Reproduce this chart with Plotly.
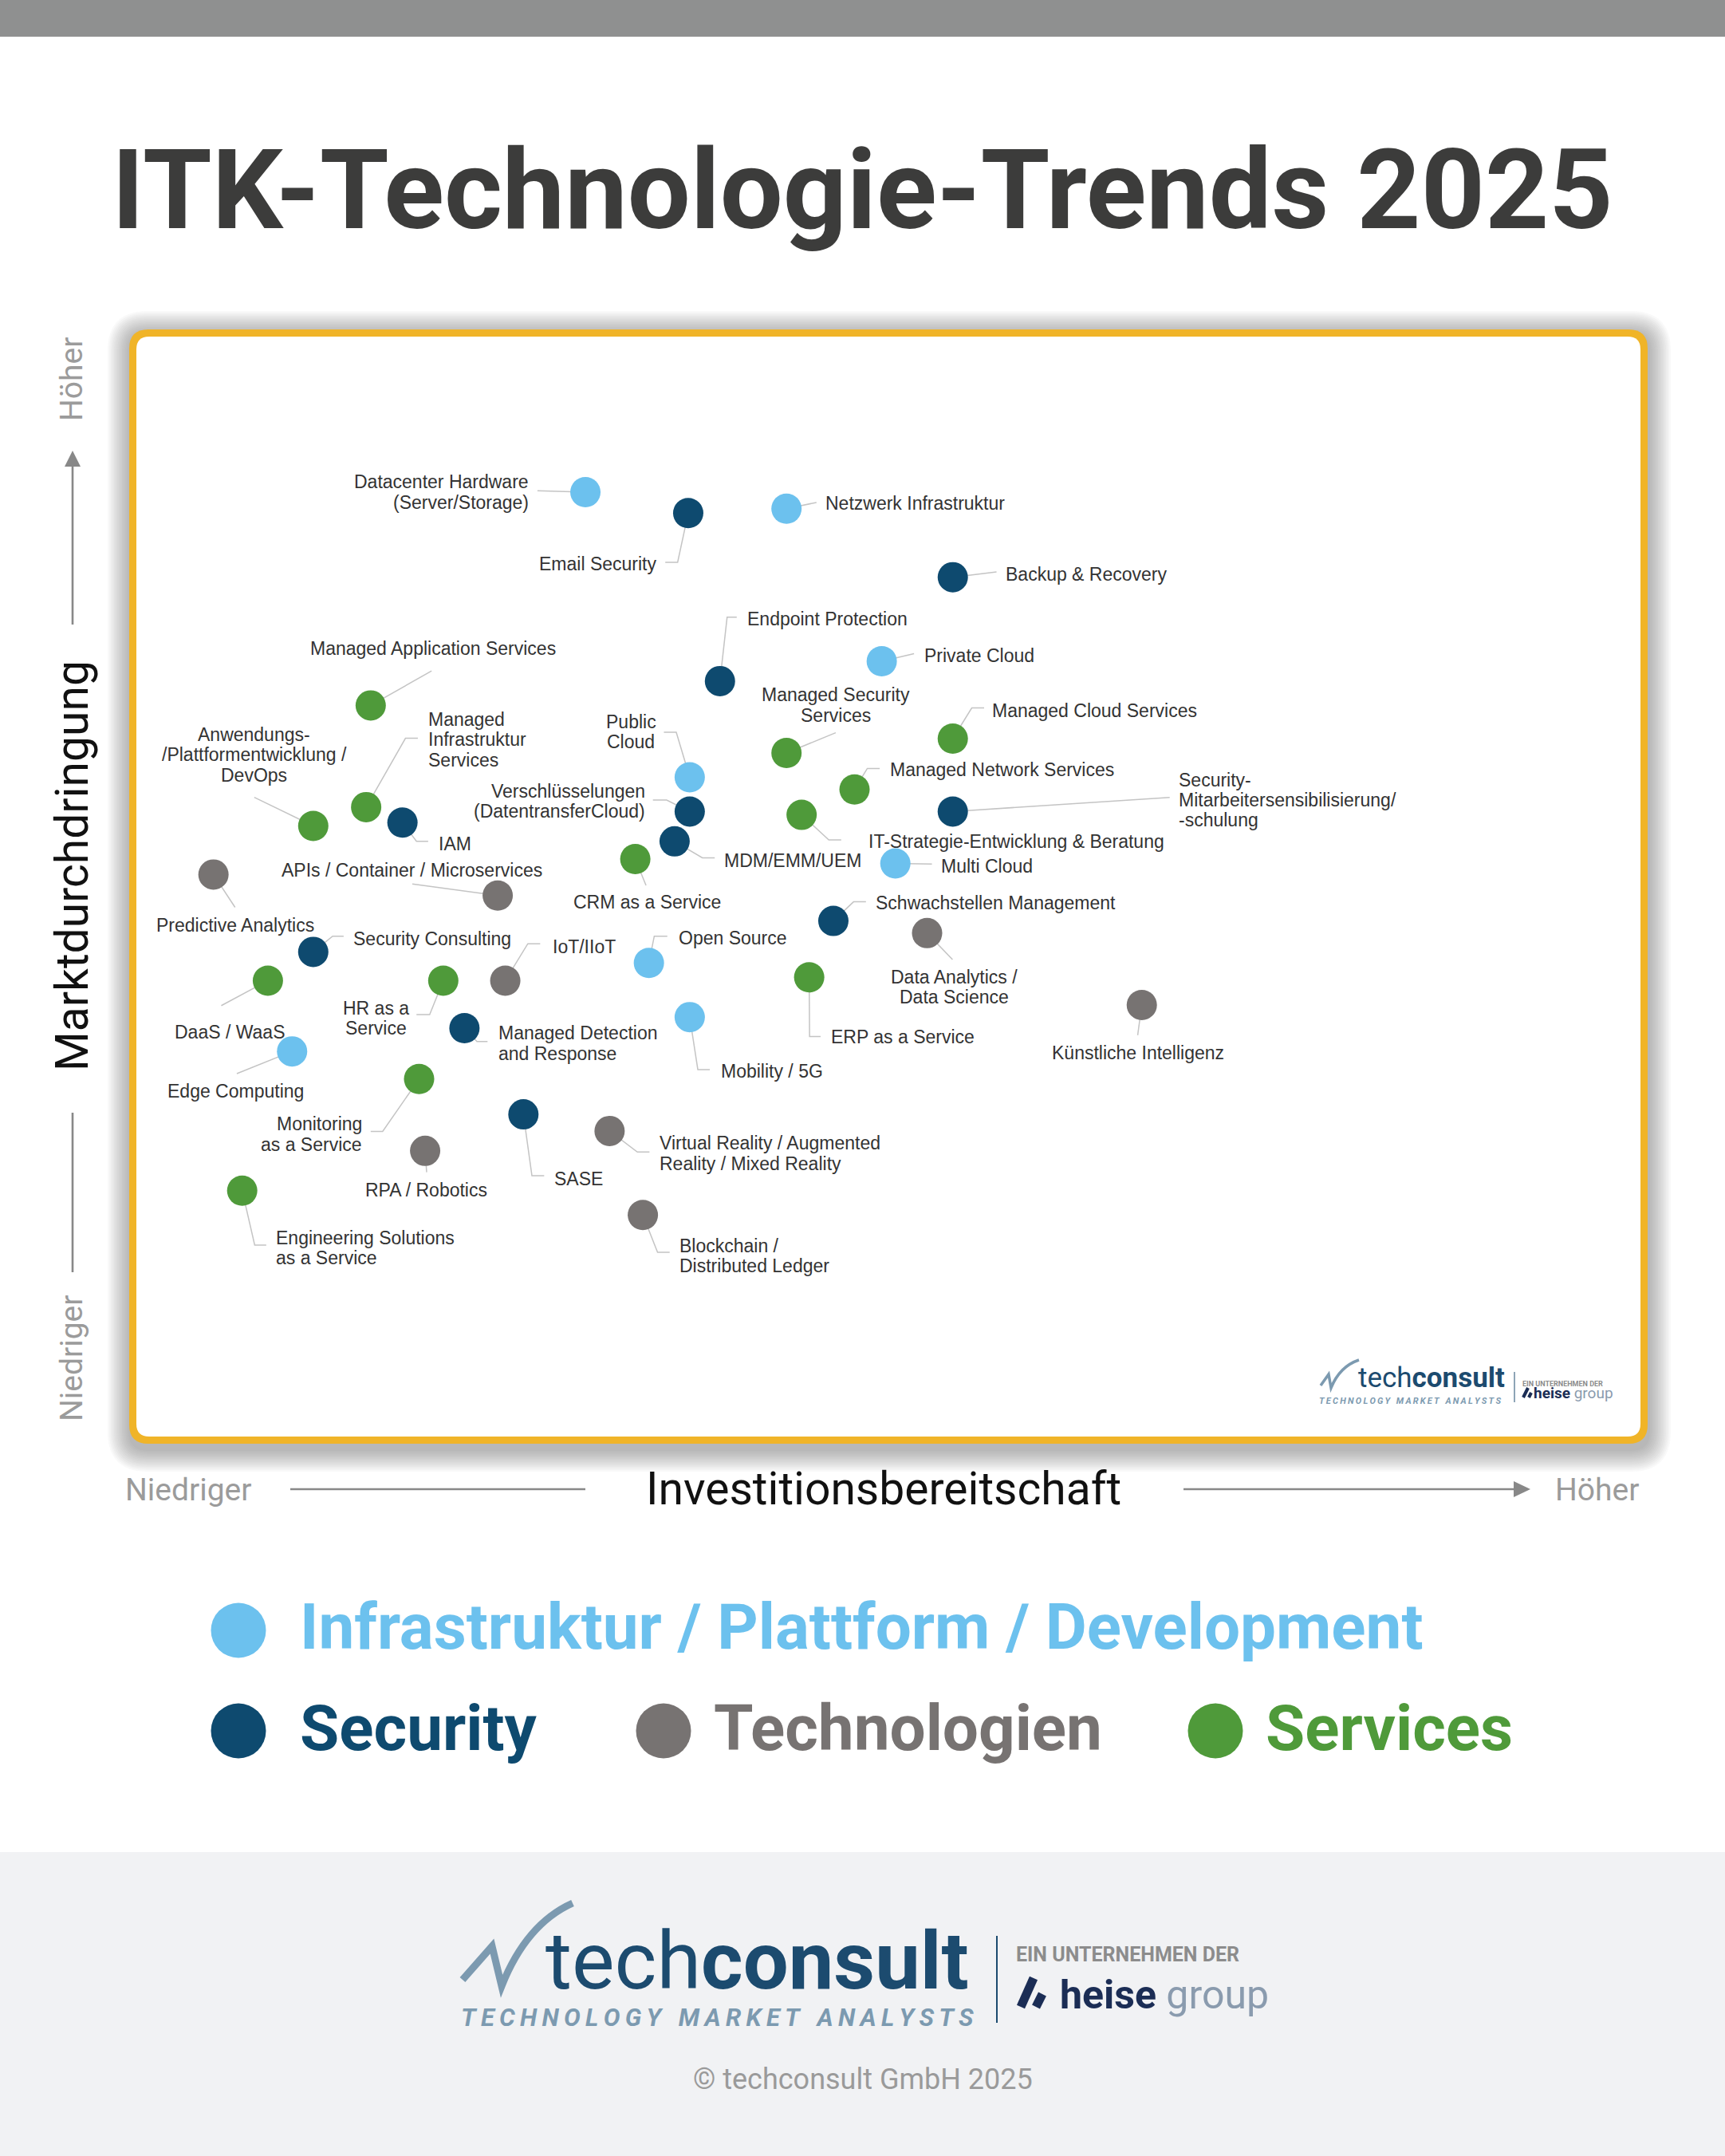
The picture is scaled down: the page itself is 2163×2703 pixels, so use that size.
import plotly.graph_objects as go

W, H = 2163, 2703
S = W / 1255.0  # reference layout unit -> page pixel

# ---------------- data ----------------
themen = [
    "Datacenter Hardware\n(Server/Storage)", "Email Security", "Netzwerk Infrastruktur",
    "Backup & Recovery", "Endpoint Protection", "Private Cloud",
    "Managed Security\nServices", "Managed Cloud Services", "Managed Application Services",
    "Managed\nInfrastruktur\nServices", "Anwendungs-\n/Plattformentwicklung /\nDevOps", "IAM",
    "Public\nCloud", "Verschlüsselungen\n(DatentransferCloud)", "MDM/EMM/UEM",
    "Managed Network Services", "IT-Strategie-Entwicklung & Beratung",
    "Security-\nMitarbeitersensibilisierung/\n-schulung", "Multi Cloud", "CRM as a Service",
    "APIs / Container / Microservices", "Predictive Analytics", "Schwachstellen Management",
    "Data Analytics /\nData Science", "Security Consulting", "IoT/IIoT", "Open Source",
    "ERP as a Service", "DaaS / WaaS", "HR as a\nService", "Managed Detection\nand Response",
    "Mobility / 5G", "Künstliche Intelligenz", "Edge Computing", "Monitoring\nas a Service",
    "RPA / Robotics", "SASE", "Virtual Reality / Augmented\nReality / Mixed Reality",
    "Blockchain /\nDistributed Ledger", "Engineering Solutions\nas a Service",
]
gruppe = [
    "infra", "sec", "infra", "sec", "sec", "infra",
    "serv", "serv", "serv",
    "serv", "serv", "sec",
    "infra", "sec", "sec",
    "serv", "serv",
    "sec", "infra", "serv",
    "tech", "tech", "sec",
    "tech", "sec", "tech", "infra",
    "serv", "serv", "serv", "sec",
    "infra", "tech", "infra", "serv",
    "tech", "sec", "tech",
    "tech", "serv",
]
investitionsbereitschaft = [
    29.9, 36.7, 43.2, 54.2, 38.8, 49.5,
    43.2, 54.2, 15.7,
    15.4, 11.9, 17.8,
    36.8, 36.8, 35.8,
    47.7, 44.2,
    54.2, 50.4, 33.2,
    24.1, 5.3, 46.3,
    52.5, 11.9, 24.6, 34.1,
    44.7, 8.9, 20.5, 21.9,
    36.8, 66.7, 10.5, 18.9,
    19.3, 25.8, 31.5,
    33.7, 7.2,
]
marktdurchdringung = [
    85.7, 83.8, 84.2, 78.0, 68.6, 70.4,
    62.1, 63.4, 66.4,
    57.2, 55.5, 55.8,
    59.9, 56.8, 54.1,
    58.8, 56.5,
    56.8, 52.1, 52.5,
    49.2, 51.1, 46.9,
    45.8, 44.1, 41.5, 43.1,
    41.8, 41.5, 41.5, 37.2,
    38.2, 39.3, 35.1, 32.6,
    26.1, 29.4, 27.9,
    20.3, 22.5,
]

gruppen = ["infra", "sec", "tech", "serv"]
gruppen_namen = {
    "infra": "Infrastruktur / Plattform / Development",
    "sec": "Security",
    "tech": "Technologien",
    "serv": "Services",
}
farben = {"infra": "#6CC1EE", "sec": "#0E4A6F", "tech": "#777372", "serv": "#4F9A3A"}

# label layout (reference layout units): anchor, text x, text y, leader waypoints
label_layout = [
    ("right", 385, 358, [(391, 357)]),
    ("right", 478, 410, [(493, 409), (484, 409)]),
    ("left", 600, 366, [(594, 365.5)]),
    ("left", 731, 418, [(725, 416)]),
    ("left", 543, 450, [(529, 449), (536, 449)]),
    ("left", 672, 477, [(665, 475.5)]),
    ("center", 608, 513, [(608, 533)]),
    ("left", 721, 517, [(707, 515), (716, 515)]),
    ("center", 315, 472, [(314, 488)]),
    ("left", 311, 538, [(295, 537), (304, 537)]),
    ("center", 185, 549, [(185, 580)]),
    ("left", 318.5, 614, [(303, 612), (311.5, 612)]),
    ("center", 459, 532.5, [(492, 532.6), (483, 532.6)]),
    ("right", 470, 583, [(485, 582), (475, 582)]),
    ("left", 526, 626, [(511, 624), (520, 624)]),
    ("left", 647, 560, [(631, 559), (640, 559)]),
    ("left", 631, 612, [(603, 611), (612, 611)]),
    ("left", 857, 582, [(851, 580)]),
    ("left", 684, 630, [(678, 628.5)]),
    ("center", 471, 656, [(470, 644)]),
    ("left", 204, 633, [(300, 643)]),
    ("center", 171, 673, [(171, 660)]),
    ("left", 636.5, 657, [(621, 656), (630, 656)]),
    ("center", 694, 718, [(693, 698)]),
    ("left", 256.5, 683, [(242, 681), (250, 681)]),
    ("left", 401.5, 689, [(384, 686.5), (393, 686.5)]),
    ("left", 493, 682.5, [(476, 681), (485.5, 681)]),
    ("left", 604, 754, [(589, 754), (597, 754)]),
    ("center", 167, 750.7, [(161, 731.5)]),
    ("center", 273.5, 740.7, [(312.6, 738), (303, 738)]),
    ("left", 362, 759, [(347, 757.6), (354.7, 757.6)]),
    ("left", 524, 779.4, [(507.7, 778), (516.4, 778)]),
    ("center", 828, 766, [(827.7, 753)]),
    ("center", 171.6, 793.7, [(172.3, 781)]),
    ("right", 264, 825, [(278.4, 823), (269.7, 823)]),
    ("center", 310, 865.7, [(310.4, 852.7)]),
    ("left", 402.5, 857.4, [(387, 855.3), (395.9, 855.3)]),
    ("left", 479.5, 839, [(463.7, 838), (472.5, 838)]),
    ("left", 493.6, 913.5, [(478.4, 911), (487.2, 911)]),
    ("left", 200, 907.6, [(185.3, 905.7), (193.7, 905.7)]),
]


def ref(xd, yd):
    """reference layout units -> axis units"""
    return (xd - 97) / 11.0, (1047 - yd) / 8.04


def px(x):
    return x / W


def py(y):
    return 1 - y / H


def rrect(x0, y0, x1, y1, r):
    return (f"M {px(x0 + r)},{py(y0)} L {px(x1 - r)},{py(y0)} "
            f"Q {px(x1)},{py(y0)} {px(x1)},{py(y0 + r)} L {px(x1)},{py(y1 - r)} "
            f"Q {px(x1)},{py(y1)} {px(x1 - r)},{py(y1)} L {px(x0 + r)},{py(y1)} "
            f"Q {px(x0)},{py(y1)} {px(x0)},{py(y1 - r)} L {px(x0)},{py(y0 + r)} "
            f"Q {px(x0)},{py(y0)} {px(x0 + r)},{py(y0)} Z")


def ppath(points, close=False):
    s = "M " + " L ".join(f"{px(a)},{py(b)}" for a, b in points)
    return s + (" Z" if close else "")


fig = go.Figure()

# leader lines
lx, ly = [], []
for i, (anc, tx, ty, pts) in enumerate(label_layout):
    lx.append(investitionsbereitschaft[i])
    ly.append(marktdurchdringung[i])
    for p in pts:
        a, b = ref(*p)
        lx.append(a)
        ly.append(b)
    lx.append(None)
    ly.append(None)
fig.add_trace(go.Scatter(x=lx, y=ly, mode="lines", line=dict(color="#C4C4C4", width=1.5),
                         hoverinfo="skip", showlegend=False))

for g in gruppen:
    idx = [i for i, v in enumerate(gruppe) if v == g]
    fig.add_trace(go.Scatter(
        x=[investitionsbereitschaft[i] for i in idx],
        y=[marktdurchdringung[i] for i in idx],
        mode="markers", name=gruppen_namen[g],
        text=[themen[i].replace("\n", " ") for i in idx],
        hovertemplate="%{text}<extra></extra>",
        marker=dict(size=38, color=farben[g], line=dict(width=0)),
        showlegend=False,
    ))

annotations = []
LABEL_FONT = dict(family="Liberation Sans, Arial, sans-serif", size=23, color="#333333")
for i, (anc, tx, ty, pts) in enumerate(label_layout):
    lines = themen[i].split("\n")
    n = len(lines)
    for j, line in enumerate(lines):
        yy = ty + (j - (n - 1) / 2) * 14.7
        a, b = ref(tx, yy)
        annotations.append(dict(x=a, y=b, xref="x", yref="y", text=line, showarrow=False,
                                xanchor=anc, yanchor="middle", font=LABEL_FONT, borderpad=0))


def pa(x, y, text, size, color, family="Roboto", weight=None, xanchor="center",
       textangle=0):
    f = dict(family=family, size=size, color=color)
    if weight:
        f["weight"] = weight
    annotations.append(dict(x=px(x), y=py(y), xref="paper", yref="paper", text=text,
                            showarrow=False, xanchor=xanchor, yanchor="middle", font=f,
                            textangle=textangle, borderpad=0))


# title
pa(W / 2, 238, "ITK-Technologie-Trends 2025", 140, "#3C3C3B", weight=700)

# axis titles
GREY = "#9B9B9B"
pa(1108, 1866, "Investitionsbereitschaft", 57, "#111111")
pa(236, 1868, "Niedriger", 39, GREY)
pa(2002, 1868, "Höher", 39, GREY)
pa(90, 1086, "Marktdurchdringung", 57, "#111111", textangle=-90)
pa(90, 476, "Höher", 39, GREY, textangle=-90)
pa(90, 1703, "Niedriger", 39, GREY, textangle=-90)

# legend texts
pa(375, 2040, gruppen_namen["infra"], 80, farben["infra"], weight=700, xanchor="left")
pa(375, 2167, gruppen_namen["sec"], 80, farben["sec"], weight=700, xanchor="left")
pa(894, 2167, gruppen_namen["tech"], 80, farben["tech"], weight=700, xanchor="left")
pa(1586, 2167, gruppen_namen["serv"], 80, farben["serv"], weight=700, xanchor="left")

# footer logo texts
LOGO = "#1C4B6F"
LOGO2 = "#7C9AB0"
TMA = "\u2009".join("TECHNOLOGY") + "\u2002\u2009" + "\u2009".join("MARKET") + "\u2002\u2009" + "\u2009".join("ANALYSTS")
pa(683, 2458, "tech<b>consult</b>", 101, LOGO, xanchor="left")
pa(577, 2529, "<b><i>" + TMA + "</i></b>", 31, LOGO2, xanchor="left")
pa(1273, 2450, "<b>EIN UNTERNEHMEN DER</b>", 25, "#8C8C8C", xanchor="left")
pa(1328, 2501, "<b>heise</b> <span style='color:#8A9BAE'>group</span>", 50, "#1B2D55",
   xanchor="left")
pa(W / 2, 2607, "© techconsult GmbH 2025", 36, "#9A9A9A")

# small logo in card
pa(1702, 1727, "tech<b>consult</b>", 35, LOGO, xanchor="left")
pa(1653, 1756, "<b><i>" + TMA + "</i></b>", 11, LOGO2, xanchor="left")
pa(1908, 1735, "<b>EIN UNTERNEHMEN DER</b>", 9, "#8C8C8C", xanchor="left")
pa(1922, 1746, "<b>heise</b> <span style='color:#8A9BAE'>group</span>", 19, "#1B2D55",
   xanchor="left")

# ---------------- shapes ----------------
shapes = []
shapes.append(dict(type="rect", xref="paper", yref="paper", x0=0, x1=1, y0=py(46), y1=1,
                   fillcolor="#8F9090", line=dict(width=0), layer="below"))
shapes.append(dict(type="rect", xref="paper", yref="paper", x0=0, x1=1, y0=0, y1=py(2322),
                   fillcolor="#F1F2F4", line=dict(width=0), layer="below"))
# card shadow
for k in range(14):
    e = 2 + k * 2.0
    shapes.append(dict(type="path", xref="paper", yref="paper",
                       path=rrect(162 - e + 1, 413 - e + 5, 2066 + e + 1, 1810 + e + 7, 22 + e),
                       fillcolor="rgba(105,105,108,0.04)", line=dict(width=0), layer="below"))
shapes.append(dict(type="path", xref="paper", yref="paper", path=rrect(162, 413, 2066, 1810, 24),
                   fillcolor="#F0B428", line=dict(width=0), layer="below"))
shapes.append(dict(type="path", xref="paper", yref="paper", path=rrect(171, 422, 2057, 1801, 16),
                   fillcolor="#FFFFFF", line=dict(width=0), layer="below"))

AX = "#888888"
# y axis arrow + line
shapes.append(dict(type="line", xref="paper", yref="paper", x0=px(91), x1=px(91), y0=py(783),
                   y1=py(582), line=dict(color=AX, width=2.6)))
shapes.append(dict(type="path", xref="paper", yref="paper",
                   path=ppath([(81, 585), (91, 565), (101, 585)], True),
                   fillcolor=AX, line=dict(width=0)))
shapes.append(dict(type="line", xref="paper", yref="paper", x0=px(91), x1=px(91), y0=py(1395),
                   y1=py(1595), line=dict(color=AX, width=2.6)))
# x axis line + arrow
shapes.append(dict(type="line", xref="paper", yref="paper", x0=px(364), x1=px(734), y0=py(1867),
                   y1=py(1867), line=dict(color=AX, width=2.6)))
shapes.append(dict(type="line", xref="paper", yref="paper", x0=px(1484), x1=px(1900), y0=py(1867),
                   y1=py(1867), line=dict(color=AX, width=2.6)))
shapes.append(dict(type="path", xref="paper", yref="paper",
                   path=ppath([(1898, 1857), (1919, 1867), (1898, 1877)], True),
                   fillcolor=AX, line=dict(width=0)))

# legend dots
for g, (cx, cy) in zip(gruppen, [(299, 2044), (299, 2170), (832, 2170), (1524, 2170)]):
    r = 34.5
    shapes.append(dict(type="circle", xref="paper", yref="paper", x0=px(cx - r), x1=px(cx + r),
                       y0=py(cy + r), y1=py(cy - r), fillcolor=farben[g], line=dict(width=0)))

# logo marks (big)
shapes.append(dict(type="path", xref="paper", yref="paper",
                   path=f"M {px(580)},{py(2482)} L {px(617)},{py(2440)} L {px(629)},{py(2490)} "
                        f"Q {px(660)},{py(2412)} {px(718)},{py(2386)}",
                   line=dict(color=LOGO2, width=9)))
shapes.append(dict(type="line", xref="paper", yref="paper", x0=px(1250), x1=px(1250),
                   y0=py(2536), y1=py(2427), line=dict(color=LOGO, width=2)))
shapes.append(dict(type="line", xref="paper", yref="paper", x0=px(1280), x1=px(1296),
                   y0=py(2516), y1=py(2480), line=dict(color="#1B2D55", width=11)))
shapes.append(dict(type="line", xref="paper", yref="paper", x0=px(1299), x1=px(1307),
                   y0=py(2516), y1=py(2500), line=dict(color="#1B2D55", width=11)))
# logo marks (small)
shapes.append(dict(type="path", xref="paper", yref="paper",
                   path=f"M {px(1656)},{py(1737)} L {px(1666)},{py(1723)} L {px(1669)},{py(1740)} "
                        f"Q {px(1680)},{py(1713)} {px(1704)},{py(1705)}",
                   line=dict(color=LOGO2, width=3.5)))
shapes.append(dict(type="line", xref="paper", yref="paper", x0=px(1899), x1=px(1899),
                   y0=py(1758), y1=py(1720), line=dict(color=LOGO, width=1)))
shapes.append(dict(type="line", xref="paper", yref="paper", x0=px(1910), x1=px(1916),
                   y0=py(1752), y1=py(1740), line=dict(color="#1B2D55", width=4)))
shapes.append(dict(type="line", xref="paper", yref="paper", x0=px(1917), x1=px(1920),
                   y0=py(1752), y1=py(1746), line=dict(color="#1B2D55", width=4)))

fig.update_layout(
    width=W, height=H, autosize=False,
    margin=dict(l=0, r=0, t=0, b=0),
    paper_bgcolor="#FFFFFF", plot_bgcolor="rgba(0,0,0,0)",
    xaxis=dict(domain=[px(97 * S), px(1197 * S)], range=[0, 100], visible=False,
               fixedrange=True),
    yaxis=dict(domain=[py(1047 * S), py(243 * S)], range=[0, 100], visible=False,
               fixedrange=True),
    shapes=shapes, annotations=annotations, showlegend=False,
    hovermode="closest",
)

fig.write_html("out.html", config={"displayModeBar": False},
               post_script="document.body.style.margin='0';")
